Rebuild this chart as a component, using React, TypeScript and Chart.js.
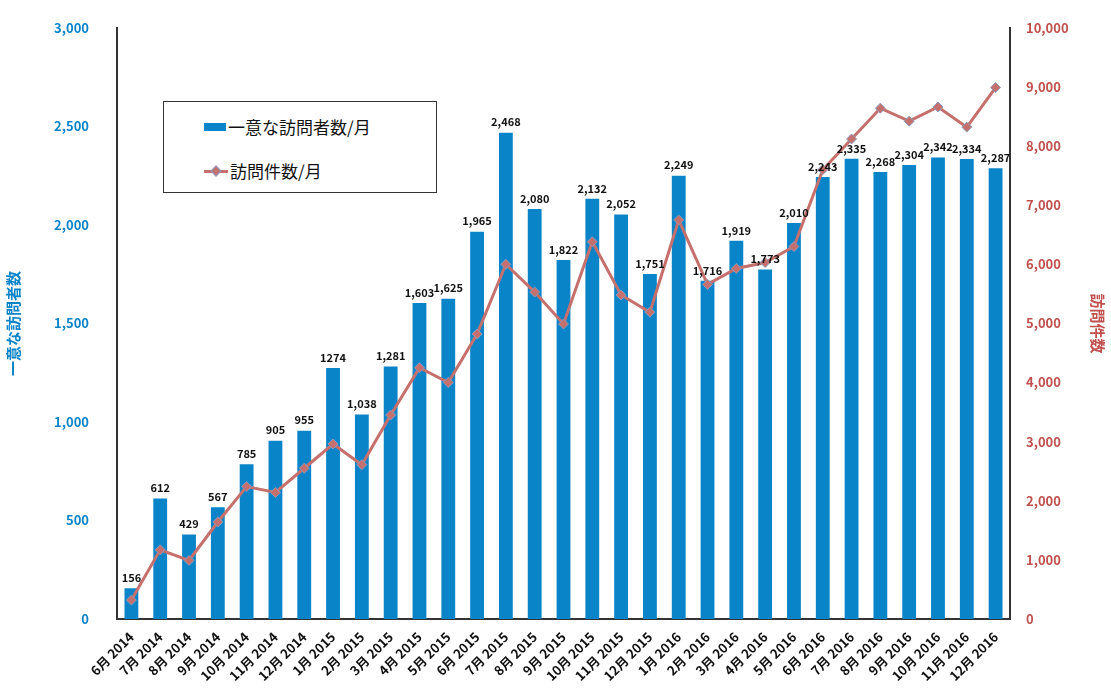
import React, { useEffect, useRef } from "react";
import { Chart, registerables } from "chart.js";
Chart.register(...registerables);

const categories = ["6月 2014","7月 2014","8月 2014","9月 2014","10月 2014","11月 2014","12月 2014","1月 2015","2月 2015","3月 2015","4月 2015","5月 2015","6月 2015","7月 2015","8月 2015","9月 2015","10月 2015","11月 2015","12月 2015","1月 2016","2月 2016","3月 2016","4月 2016","5月 2016","6月 2016","7月 2016","8月 2016","9月 2016","10月 2016","11月 2016","12月 2016"];
const visitors = [156,612,429,567,785,905,955,1274,1038,1281,1603,1625,1965,2468,2080,1822,2132,2052,1751,2249,1716,1919,1773,2010,2243,2335,2268,2304,2342,2334,2287];
const visitorLabels = ["156","612","429","567","785","905","955","1274","1,038","1,281","1,603","1,625","1,965","2,468","2,080","1,822","2,132","2,052","1,751","2,249","1,716","1,919","1,773","2,010","2,243","2,335","2,268","2,304","2,342","2,334","2,287"];
const visits = [320,1170,990,1640,2240,2140,2550,2960,2610,3450,4250,4000,4820,6000,5530,4990,6380,5480,5190,6750,5660,5930,6030,6300,7600,8120,8640,8420,8660,8320,8990];

const FONT = "'Noto Sans CJK JP', 'DejaVu Sans', sans-serif";
const BLUE = "#0a84c8";
const RED = "#c0504d";

const labelPlugin = {
  id: "barLabels",
  afterDraw(chart: any) {
    const meta = chart.getDatasetMeta(1);
    const ctx = chart.ctx;
    ctx.save();
    ctx.font = `bold 11px ${FONT}`;
    ctx.fillStyle = "#111";
    ctx.textAlign = "center";
    ctx.textBaseline = "bottom";
    meta.data.forEach((el: any, i: number) => {
      ctx.fillText(visitorLabels[i], el.x, el.y - 5);
    });
    ctx.restore();
  },
};

export default function App() {
  const ref = useRef<HTMLCanvasElement>(null);
  useEffect(() => {
    const chart = new Chart(ref.current!, {
      data: {
        labels: categories,
        datasets: [
          { type: "line", label: "訪問件数/月", data: visits, yAxisID: "y1", borderColor: "#c5706c", borderWidth: 3,
            pointStyle: "rectRot", pointRadius: 5, pointBackgroundColor: "#c5706c", pointBorderColor: "#8a9cc0", pointBorderWidth: 1, order: 0 },
          { type: "bar", label: "一意な訪問者数/月", data: visitors, yAxisID: "y", backgroundColor: BLUE, categoryPercentage: 0.48, barPercentage: 1, order: 1 },
        ] as any,
      },
      options: {
        animation: false,
        responsive: false,
        layout: { padding: { top: 16, right: 0, left: 0, bottom: 0 } },
        plugins: { legend: { display: false }, tooltip: { enabled: false } },
        scales: {
          x: {
            grid: { display: false },
            border: { color: "#333", width: 2 },
            ticks: { maxRotation: 45, minRotation: 45, color: "#111", font: { family: FONT, size: 13, weight: "bold" }, padding: 2 },
            afterFit: (s: any) => { s.height = 72; },
          },
          y: {
            position: "left", min: 0, max: 3000,
            ticks: { stepSize: 500, color: BLUE, font: { family: FONT, size: 13, weight: "bold" }, padding: 20,
              callback: (v: any) => Number(v).toLocaleString("en-US") },
            grid: { display: false },
            border: { color: "#333", width: 2 },
            title: { display: true, text: "一意な訪問者数", color: BLUE, font: { family: FONT, size: 15, weight: "bold" } },
            afterFit: (s: any) => { s.width = 117; },
          },
          y1: {
            position: "right", min: 0, max: 10000,
            ticks: { stepSize: 1000, color: RED, font: { family: FONT, size: 13, weight: "bold" }, padding: 8,
              callback: (v: any) => Number(v).toLocaleString("en-US") },
            grid: { display: false },
            border: { color: "#333", width: 2 },
            title: { display: true, text: "訪問件数", color: RED, font: { family: FONT, size: 15, weight: "bold" } },
            afterFit: (s: any) => { s.width = 101; },
          },
        },
      } as any,
      plugins: [labelPlugin],
    });
    return () => chart.destroy();
  }, []);
  return (
    <div style={{ position: "absolute", left: 0, top: 0, width: 1111, height: 691, background: "#fff" }}>
      <canvas ref={ref} width={1111} height={691} />
      <div style={{ position: "absolute", left: 163, top: 101, width: 272, height: 90, border: "1px solid #333", background: "#fff",
        fontFamily: FONT, fontSize: 17, color: "#111" }}>
        <div style={{ position: "absolute", left: 40, top: 12, display: "flex", alignItems: "center" }}>
          <span style={{ display: "inline-block", width: 22, height: 8, background: BLUE, marginRight: 2 }} />一意な訪問者数/月
        </div>
        <div style={{ position: "absolute", left: 40, top: 56, display: "flex", alignItems: "center" }}>
          <span style={{ position: "relative", display: "inline-block", width: 24, height: 10, marginRight: 2 }}>
            <span style={{ position: "absolute", left: 0, top: 4, width: 24, height: 3, background: "#c5706c" }} />
            <span style={{ position: "absolute", left: 8, top: 1, width: 8, height: 8, background: "#c5706c", transform: "rotate(45deg)", border: "1px solid #8a9cc0", boxSizing: "border-box" }} />
          </span>訪問件数/月
        </div>
      </div>
    </div>
  );
}
